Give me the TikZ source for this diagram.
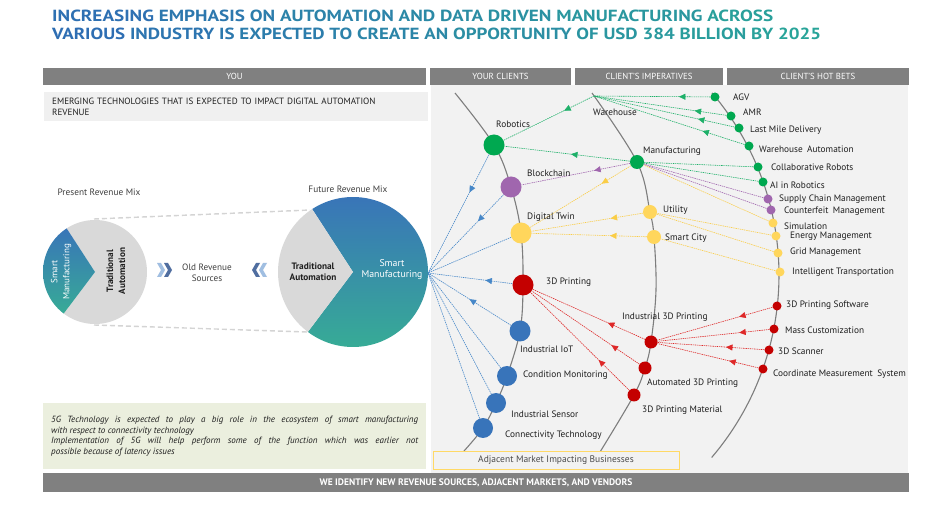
\documentclass[tikz,border=0pt]{standalone}
\usepackage{fontspec}
\setmainfont{PT Sans}
\usepackage{graphicx}
\usetikzlibrary{arrows.meta,decorations.markings}
\definecolor{tbl}{RGB}{46,108,180}
\definecolor{ttl}{RGB}{40,166,152}
\definecolor{hdrgray}{RGB}{128,128,128}
\definecolor{panel}{RGB}{242,242,242}
\definecolor{boxgray}{RGB}{240,240,240}
\definecolor{gbox}{RGB}{235,239,222}
\definecolor{arcgray}{RGB}{125,125,125}
\definecolor{cgreen}{RGB}{0,168,80}
\definecolor{lgreen}{RGB}{30,176,105}
\definecolor{cpurple}{RGB}{160,102,174}
\definecolor{cyellow}{RGB}{255,214,92}
\definecolor{lyellow}{RGB}{250,205,70}
\definecolor{cred}{RGB}{196,0,0}
\definecolor{lred}{RGB}{222,40,40}
\definecolor{cblue}{RGB}{56,116,186}
\definecolor{lblue}{RGB}{70,135,200}
\definecolor{pgray}{RGB}{217,217,217}
\definecolor{gtop}{RGB}{57,117,184}
\definecolor{gbot}{RGB}{55,171,150}
\definecolor{dashgray}{RGB}{212,212,212}
\definecolor{ybord}{RGB}{255,217,102}
\definecolor{txt}{RGB}{30,30,30}
\definecolor{chevl}{RGB}{160,190,225}
\definecolor{chevd}{RGB}{80,110,160}
\newcommand\twd[2]{\textcolor{ttl!#1!tbl}{#2}}
\pgfdeclarelayer{back}\pgfdeclarelayer{lines}
\pgfsetlayers{back,lines,main}
\begin{document}
\begin{tikzpicture}[x=1pt,y=-1pt,
 lbl/.style={anchor=west,inner sep=0pt,font=\fontsize{9.3}{11}\selectfont,text=txt},
 hdr/.style={fill=hdrgray,text=white,font=\fontsize{8.8}{10}\selectfont,minimum height=17pt,inner sep=0pt},
 bnode/.style={circle,inner sep=0pt,minimum size=21pt},
 mnode/.style={circle,inner sep=0pt,minimum size=14pt},
 snode/.style={circle,inner sep=0pt,minimum size=9pt},
 cl/.style={dash pattern=on 1.4pt off 0.8pt,line width=0.6pt},
 arr/.style={postaction={decorate},decoration={markings,mark=at position #1 with {\arrow{Triangle[length=6.5pt,width=6pt]}}}},
 arcline/.style={draw=arcgray,line width=1.1pt},
 ptxt/.style={font=\fontsize{9.3}{11}\selectfont,align=center,inner sep=0pt},
]
\useasboundingbox (0,0) rectangle (940,510);
\begin{pgfonlayer}{back}
\fill[white] (0,0) rectangle (940,510);
\fill[panel] (431,85) rectangle (908,473);
\end{pgfonlayer}

% title
\node[anchor=north west,inner sep=0pt] (title1) at (52,9.5) {\resizebox{721pt}{11.5pt}{\bfseries \twd{7}{INCREASING} \twd{20}{EMPHASIS} \twd{30}{ON} \twd{40}{AUTOMATION} \twd{50}{AND} \twd{56}{DATA} \twd{63}{DRIVEN} \twd{75}{MANUFACTURING} \twd{89}{ACROSS}}};
\node[anchor=north west,inner sep=0pt] (title2) at (52,28) {\resizebox{769pt}{11.5pt}{\bfseries \twd{4}{VARIOUS} \twd{15}{INDUSTRY} \twd{23}{IS} \twd{29}{EXPECTED} \twd{37}{TO} \twd{43}{CREATE} \twd{49}{AN} \twd{59}{OPPORTUNITY} \twd{69}{OF} \twd{73}{USD} \twd{78}{384} \twd{85}{BILLION} \twd{91}{BY} \twd{96}{2025}}};

% header bars
\node[hdr,minimum width=383pt] (hyou) at (234.5,76.5) {YOU};
\node[hdr,minimum width=141pt] (hcl) at (500.5,76.5) {YOUR CLIENTS};
\node[hdr,minimum width=148pt] (him) at (649,76.5) {CLIENT'S IMPERATIVES};
\node[hdr,minimum width=182pt] (hhb) at (818,76.5) {CLIENT'S HOT BETS};

\node[anchor=north west,fill=boxgray,minimum width=384pt,minimum height=29pt,text width=368pt,inner xsep=8pt,inner ysep=0pt,align=left,font=\fontsize{9.1}{11}\selectfont,text=txt] (emerge) at (44,92) {EMERGING TECHNOLOGIES THAT IS EXPECTED TO IMPACT DIGITAL AUTOMATION\\REVENUE};

\node[anchor=north west,fill=gbox,minimum width=383pt,minimum height=66pt,text width=367pt,inner xsep=8pt,inner ysep=0pt,align=justify,font=\fontsize{9}{10.8}\selectfont\itshape,text=txt] (fiveg) at (43,403) {5G Technology is expected to play a big role in the ecosystem of smart manufacturing\linebreak with respect to connectivity technology\par Implementation of 5G will help perform some of the function which was earlier not\linebreak possible because of latency issues};

\node[fill=hdrgray,minimum width=866pt,minimum height=19pt,inner sep=0pt,text=white,font=\fontsize{9.5}{10}\selectfont\bfseries] (foot) at (476,482.5) {WE IDENTIFY NEW REVENUE SOURCES, ADJACENT MARKETS, AND VENDORS};

% ---------- pies
\fill[pgray] (95,272) -- plot[domain=-123:127,samples=80] ({95+52*cos(\x)},{272+52*sin(\x)}) -- cycle;
\shade[top color=gtop,bottom color=gbot] (95,272) -- plot[domain=127:237,samples=40] ({95+52*cos(\x)},{272+52*sin(\x)}) -- cycle;
\shade[top color=gtop,bottom color=gbot] (353,272) -- plot[domain=-123:127,samples=90] ({353+75*cos(\x)},{272+75*sin(\x)}) -- cycle;
\fill[pgray] (353,272) -- plot[domain=127:237,samples=40] ({353+75*cos(\x)},{272+75*sin(\x)}) -- cycle;
\coordinate (pt1) at (94,219);
\coordinate (pb1) at (94,325);
\coordinate (ft1) at (310,210);
\coordinate (fb1) at (307,332);
\draw[dashgray,line width=1.4pt,dash pattern=on 5pt off 3pt] (pt1) -- (ft1);
\draw[dashgray,line width=1.4pt,dash pattern=on 5pt off 3pt] (pb1) -- (fb1);
\coordinate (pieR) at (428,273);

\node[ptxt,text=white,rotate=90,font=\fontsize{9}{12}\selectfont] (psm) at (61,272) {Smart\\Manufacturing};
\node[ptxt,text=txt,rotate=90,font=\fontsize{9.2}{12}\selectfont\bfseries] (pta) at (116,271) {Traditional\\Automation};
\node[ptxt,text=txt,font=\fontsize{9.3}{11}\selectfont\bfseries] (fta) at (313,271.5) {Traditional\\Automation};
\node[ptxt,text=white,font=\fontsize{9.8}{10.5}\selectfont] (fsm) at (392,269.5) {Smart\\Manufacturing};
\node[ptxt,text=txt!85] (prm) at (99,192) {Present Revenue Mix};
\node[ptxt,text=txt!85] (frm) at (348,189) {Future Revenue Mix};
\node[ptxt,text=txt!85,font=\fontsize{9.2}{10.5}\selectfont] (ors) at (207,273) {Old Revenue\\Sources};
\fill[chevl] (157,263) -- (161,263) -- (165,270) -- (161,277) -- (157,277) -- (161,270) -- cycle;
\fill[chevd] (164,263) -- (168,263) -- (172,270) -- (168,277) -- (164,277) -- (168,270) -- cycle;
\fill[chevd] (260,263) -- (256,263) -- (252,270) -- (256,277) -- (260,277) -- (256,270) -- cycle;
\fill[chevl] (267,263) -- (263,263) -- (259,270) -- (263,277) -- (267,277) -- (263,270) -- cycle;

% ---------- client nodes
\node[bnode,fill=cgreen] (rob) at (494,145) {};
\node[bnode,fill=cpurple] (blk) at (511,187) {};
\node[bnode,fill=cyellow] (dt) at (521,233) {};
\node[bnode,fill=cred] (p3d) at (523,285) {};
\node[bnode,fill=cblue] (iot) at (520,331) {};
\node[bnode,fill=cblue,minimum size=20pt] (cmon) at (507,376) {};
\node[bnode,fill=cblue,minimum size=20pt] (isen) at (496,403) {};
\node[bnode,fill=cblue,minimum size=20pt] (conn) at (483,428) {};
\node[lbl] (lrob) at (496,124) {Robotics};
\node[lbl] (lblk) at (527,173) {Blockchain};
\node[lbl] (ldt) at (527,217) {Digital Twin};
\node[lbl] (lp3d) at (546,282) {3D Printing};
\node[lbl] (liot) at (520,349) {Industrial IoT};
\node[lbl] (lcmon) at (523,375) {Condition Monitoring};
\node[lbl] (lisen) at (511,414) {Industrial Sensor};
\node[lbl] (lconn) at (505,435) {Connectivity Technology};

% ---------- imperatives
\coordinate (wh) at (594,96);
\node[lbl] (lwh) at (593,112) {Warehouse};
\node[mnode,fill=cgreen] (manu) at (637,162) {};
\node[lbl] (lmanu) at (643,151) {Manufacturing};
\node[mnode,fill=cyellow] (util) at (650,212) {};
\node[lbl] (lutil) at (663,210) {Utility};
\node[mnode,fill=cyellow] (scity) at (654,237) {};
\node[lbl] (lscity) at (665,238) {Smart City};
\node[mnode,fill=cred,minimum size=13pt] (i3d) at (651,342) {};
\node[lbl] (li3d) at (622,317) {Industrial 3D Printing};
\node[mnode,fill=cred,minimum size=13pt] (a3d) at (645,368) {};
\node[lbl] (la3d) at (647,383) {Automated 3D Printing};
\node[mnode,fill=cred,minimum size=13pt] (m3d) at (634,395) {};
\node[lbl] (lm3d) at (642,410) {3D Printing Material};

% ---------- hot bets
\node[snode,fill=cgreen] (agv) at (715,97) {};
\node[snode,fill=cgreen] (amr) at (731,116) {};
\node[snode,fill=cgreen] (lmd) at (739,128) {};
\node[snode,fill=cgreen] (wha) at (749,146) {};
\node[snode,fill=cgreen] (colr) at (758,167) {};
\node[snode,fill=cgreen] (air) at (763,182) {};
\node[snode,fill=cpurple] (scm) at (768,199) {};
\node[snode,fill=cpurple] (cfm) at (771,210) {};
\node[snode,fill=cyellow] (sim) at (773,223) {};
\node[snode,fill=cyellow] (enm) at (776,236) {};
\node[snode,fill=cyellow] (grm) at (778,253) {};
\node[snode,fill=cyellow] (itr) at (780,272) {};
\node[snode,fill=cred] (s3d) at (777,306) {};
\node[snode,fill=cred] (mcu) at (774,329) {};
\node[snode,fill=cred] (scn) at (769,350) {};
\node[snode,fill=cred] (cms) at (763,369) {};
\node[lbl] (lagv) at (733,97) {AGV};
\node[lbl] (lamr) at (743,112) {AMR};
\node[lbl] (llmd) at (750,130) {Last Mile Delivery};
\node[lbl] (lwha) at (759,149) {Warehouse\hspace{2pt} Automation};
\node[lbl] (lcolr) at (771,167) {Collaborative Robots};
\node[lbl] (lair) at (770,185) {AI in Robotics};
\node[lbl] (lscm) at (779,199) {Supply Chain Management};
\node[lbl] (lcfm) at (784,211) {Counterfeit\hspace{2pt} Management};
\node[lbl] (lsim) at (784,226) {Simulation};
\node[lbl] (lenm) at (790,236) {Energy Management};
\node[lbl] (lgrm) at (790,252) {Grid Management};
\node[lbl] (litr) at (792,272) {Intelligent Transportation};
\node[lbl] (ls3d) at (786,305) {3D Printing Software};
\node[lbl] (lmcu) at (785,330) {Mass Customization};
\node[lbl] (lscn) at (778,351) {3D Scanner};
\node[lbl] (lcms) at (773,374) {Coordinate Measurement\hspace{2pt} System};

\node[draw=ybord,line width=0.8pt,fill=panel,minimum width=246pt,minimum height=18pt,inner sep=0pt,font=\fontsize{9.5}{10}\selectfont,text=txt!80] (adj) at (556,460) {Adjacent Market Impacting Businesses};

% ---------- arcs and connectors
\begin{pgfonlayer}{lines}
\draw[arcline] plot[smooth,tension=0.6] coordinates {(455,93) (494,145) (511,187) (521,233) (523,285) (520,331) (507,376) (496,403) (483,428) (464,451)};
\draw[arcline] plot[smooth,tension=0.6] coordinates {(592,93) (637,162) (650,212) (654,237) (656,290) (651,342) (645,368) (634,395) (600,452)};
\draw[arcline] plot[domain=-40.4:40.5,samples=90] ({498+281*cos(\x)},{275+281*sin(\x)});

\draw[cl,lgreen,arr=0.33] (wh) -- (rob);
\draw[cl,lgreen,arr=0.47] (manu) -- (rob);
\draw[cl,lgreen,arr=0.27] (agv) -- (wh);
\draw[cl,lgreen,arr=0.24] (amr) -- (wh);
\draw[cl,lgreen,arr=0.26] (lmd) -- (wh);
\draw[cl,lgreen,arr=0.28] (wha) -- (wh);
\draw[cl,lgreen] (colr) -- (manu);
\draw[cl,lgreen] (air) -- (manu);
\draw[cl,cpurple,arr=0.33] (manu) -- (blk);
\draw[cl,cpurple] (scm) -- (manu);
\draw[cl,cpurple] (cfm) -- (manu);
\draw[cl,lyellow,arr=0.29] (manu) -- (dt);
\draw[cl,lyellow,arr=0.29] (util) -- (dt);
\draw[cl,lyellow,arr=0.32] (scity) -- (dt);
\draw[cl,lyellow] (sim) -- (manu);
\draw[cl,lyellow] (enm) -- (util);
\draw[cl,lyellow] (grm) -- (util);
\draw[cl,lyellow] (itr) -- (scity);
\draw[cl,lred,arr=0.33] (i3d) -- (p3d);
\draw[cl,lred,arr=0.26] (a3d) -- (p3d);
\draw[cl,lred,arr=0.31] (m3d) -- (p3d);
\draw[cl,lred,arr=0.29] (s3d) -- (i3d);
\draw[cl,lred,arr=0.27] (mcu) -- (i3d);
\draw[cl,lred,arr=0.36] (scn) -- (i3d);
\draw[cl,lred,arr=0.29] (cms) -- (i3d);
\draw[cl,lblue,arr=0.32] (rob) -- (pieR);
\draw[cl,lblue,arr=0.34] (blk) -- (pieR);
\draw[cl,lblue] (dt) -- (pieR);
\draw[cl,lblue,arr=0.32] (p3d) -- (pieR);
\draw[cl,lblue,arr=0.5] (iot) -- (pieR);
\draw[cl,lblue] (cmon) -- (pieR);
\draw[cl,lblue] (isen) -- (pieR);
\draw[cl,lblue] (conn) -- (pieR);
\end{pgfonlayer}
\end{tikzpicture}
\end{document}
